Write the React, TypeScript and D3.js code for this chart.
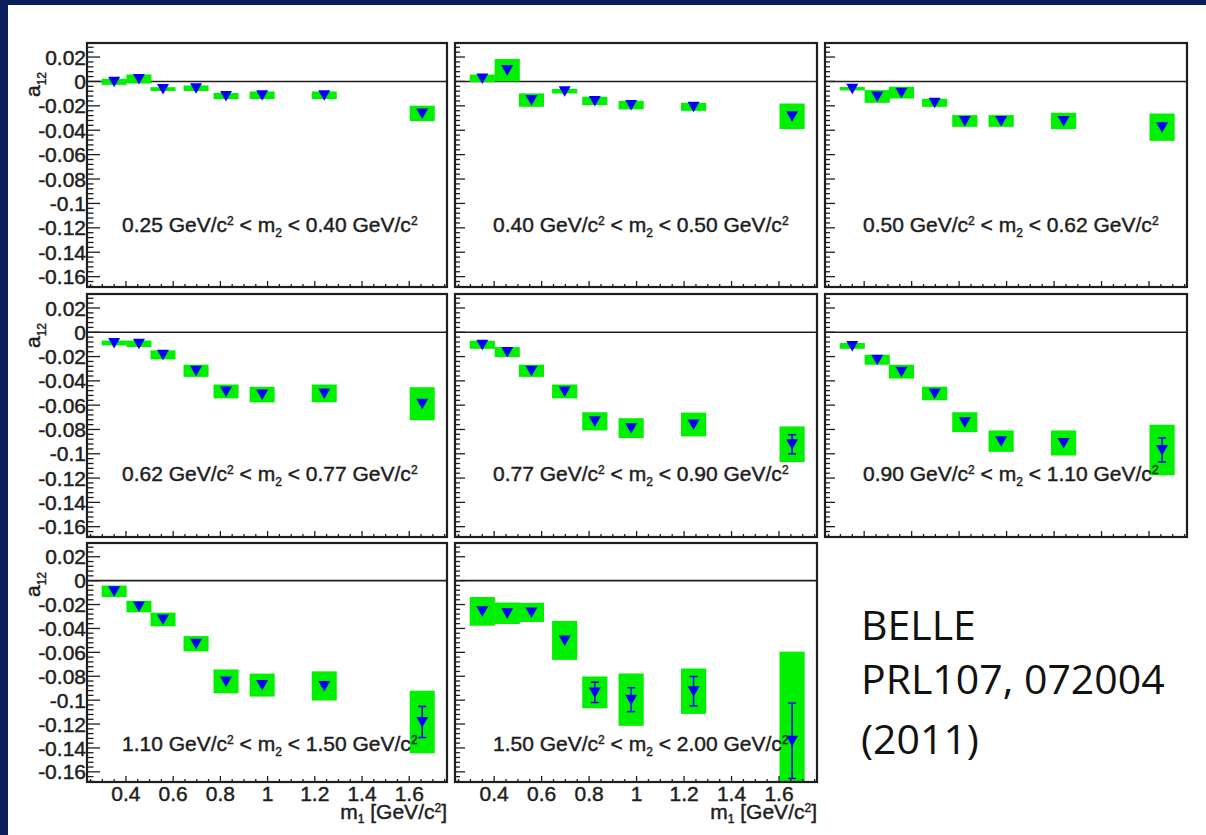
import * as d3 from 'd3';

// m1 bin centres (GeV/c^2), shared by all panels
const M1_CENTRES = [0.35, 0.455, 0.557, 0.697, 0.824, 0.977, 1.24, 1.655];

// m2 bin edges -> one panel per bin
const M2_EDGES = ['0.25', '0.40', '0.50', '0.62', '0.77', '0.90', '1.10', '1.50', '2.00'];

// a12 values, one row per m2 bin
const A12 = [
  [-0.0003, 0.002, -0.0063, -0.0056, -0.012, -0.0113, -0.0113, -0.0262],
  [0.0025, 0.0092, -0.0153, -0.008, -0.016, -0.0194, -0.0208, -0.0286],
  [-0.006, -0.0123, -0.0092, -0.0175, -0.0324, -0.0324, -0.0324, -0.0375],
  [-0.0088, -0.0095, -0.0186, -0.0317, -0.0487, -0.0513, -0.0503, -0.0588],
  [-0.0103, -0.0163, -0.0317, -0.0487, -0.0733, -0.0789, -0.0759, -0.0922],
  [-0.0112, -0.0226, -0.0324, -0.0504, -0.074, -0.0896, -0.0911, -0.0969],
  [-0.0089, -0.0217, -0.0325, -0.0528, -0.0843, -0.0874, -0.0881, -0.1183],
  [-0.0257, -0.0273, -0.0266, -0.05, -0.0935, -0.0996, -0.0925, -0.134],
];

// systematic errors (green boxes, half height)
const SYS = [
  [0.0025, 0.0037, 0.0016, 0.0023, 0.0025, 0.0031, 0.0031, 0.0063],
  [0.0031, 0.0092, 0.0055, 0.0019, 0.0034, 0.0035, 0.0033, 0.0105],
  [0.0014, 0.0052, 0.0048, 0.0033, 0.0048, 0.0048, 0.0067, 0.0112],
  [0.002, 0.0027, 0.0037, 0.005, 0.0057, 0.0064, 0.0073, 0.0136],
  [0.0033, 0.0041, 0.005, 0.0057, 0.0075, 0.0082, 0.0098, 0.0147],
  [0.0024, 0.0041, 0.0057, 0.0056, 0.0082, 0.0088, 0.0103, 0.0208],
  [0.0048, 0.0048, 0.0057, 0.0064, 0.01, 0.0096, 0.0122, 0.0262],
  [0.012, 0.009, 0.008, 0.0163, 0.0133, 0.0219, 0.019, 0.0746],
];

// statistical errors (blue bars)
const STAT = [
  [0.001, 0.001, 0.001, 0.001, 0.0015, 0.0015, 0.0015, 0.003],
  [0.001, 0.0015, 0.0015, 0.0015, 0.0015, 0.002, 0.002, 0.003],
  [0.001, 0.0015, 0.0015, 0.0015, 0.002, 0.002, 0.002, 0.0035],
  [0.0015, 0.0015, 0.0015, 0.002, 0.002, 0.0025, 0.0025, 0.004],
  [0.0015, 0.0015, 0.002, 0.002, 0.0025, 0.003, 0.003, 0.0079],
  [0.0015, 0.002, 0.002, 0.0025, 0.003, 0.0035, 0.0035, 0.0099],
  [0.002, 0.002, 0.0025, 0.003, 0.0035, 0.0035, 0.004, 0.013],
  [0.003, 0.003, 0.003, 0.004, 0.0085, 0.01, 0.0123, 0.0315],
];

const Y_TICKS = [0.02, 0, -0.02, -0.04, -0.06, -0.08, -0.1, -0.12, -0.14, -0.16];
const Y_TICK_LABELS = ['0.02', '0', '-0.02', '-0.04', '-0.06', '-0.08', '-0.1', '-0.12', '-0.14', '-0.16'];
const X_TICKS = [0.4, 0.6, 0.8, 1, 1.2, 1.4, 1.6];
const X_TICK_LABELS = ['0.4', '0.6', '0.8', '1', '1.2', '1.4', '1.6'];

const NOTE_LINES = ['BELLE', 'PRL107, 072004', '(2011)'];

// ── layout ──────────────────────────────────────────────────────────────────
const W = 1206;
const H = 835;
const NAVY = '#0b1f5c';
const INK = '#1e1e1e';
const GREEN = '#00f000';
const BLUE = '#0000ff';

const COLS = [{ x0: 87, x1: 447 }, { x0: 455, x1: 817 }, { x0: 825, x1: 1187 }];
const ROWS = [{ y0: 43, y1: 287 }, { y0: 294, y1: 537 }, { y0: 543, y1: 782 }];
const LABEL_BASELINE = [232, 481, 751];
const X_DOMAIN: [number, number] = [0.235, 1.76];
const Y_DOMAIN: [number, number] = [-0.1685, 0.0315];
const BOX_HALF = 0.053; // half width of sys boxes, in m1 units
const FONT = "'Liberation Sans', Arial, Helvetica, sans-serif";
const FS = 21;
// the scanned ROOT text is blurred and looks heavier than a plain regular face
const TXT = { fontSize: FS, fill: INK, stroke: INK, strokeWidth: 0.45 };

function Panel({ i }: { i: number }) {
  const row = Math.floor(i / 3);
  const col = i % 3;
  const { x0, x1 } = COLS[col];
  const { y0, y1 } = ROWS[row];
  const x = d3.scaleLinear().domain(X_DOMAIN).range([x0, x1]);
  const y = d3.scaleLinear().domain(Y_DOMAIN).range([y1, y0]);
  const clipId = `pclip-${i}`;

  const yMaj = col === 0 ? 13 : 10;
  const yMin = yMaj / 2;
  const xMaj = 6;
  const xMin = 3;

  const yMinor = d3.range(-42, 8).filter(k => k % 5 !== 0).map(k => k * 0.004)
    .filter(v => v >= Y_DOMAIN[0] && v <= Y_DOMAIN[1]);
  const xMinor = d3.range(5, 36).filter(k => k % 4 !== 0).map(k => k * 0.05)
    .filter(v => v >= X_DOMAIN[0] && v <= X_DOMAIN[1]);

  const vals = A12[i];
  const tri = (cx: number, cy: number) =>
    `M${cx - 6},${cy - 5}L${cx + 6},${cy - 5}L${cx},${cy + 5.5}Z`;

  return (
    <g>
      <defs>
        <clipPath id={clipId}>
          <rect x={x0} y={y0} width={x1 - x0} height={y1 - y0} />
        </clipPath>
      </defs>

      {/* zero line */}
      <line x1={x0} x2={x1} y1={y(0)} y2={y(0)} stroke={INK} strokeWidth={1.6} />

      <g clipPath={`url(#${clipId})`}>
        {/* systematic boxes */}
        {vals.map((v, k) => (
          <rect key={`s${k}`}
            x={x(M1_CENTRES[k] - BOX_HALF)} width={x(M1_CENTRES[k] + BOX_HALF) - x(M1_CENTRES[k] - BOX_HALF)}
            y={y(v + SYS[i][k])} height={y(v - SYS[i][k]) - y(v + SYS[i][k])}
            fill={GREEN} />
        ))}
        {/* stat error bars, only where they stick out of the marker */}
        {vals.map((v, k) => {
          const cx = x(M1_CENTRES[k]);
          const top = y(v + STAT[i][k]);
          const bot = y(v - STAT[i][k]);
          if (bot - top < 12) return null;
          return (
            <g key={`e${k}`} stroke={BLUE} strokeWidth={1.5}>
              <line x1={cx} x2={cx} y1={top} y2={bot} />
              <line x1={cx - 4} x2={cx + 4} y1={top} y2={top} />
              <line x1={cx - 4} x2={cx + 4} y1={bot} y2={bot} />
            </g>
          );
        })}
        {/* markers */}
        {vals.map((v, k) => (
          <path key={`m${k}`} d={tri(x(M1_CENTRES[k]), y(v))} fill={BLUE} />
        ))}
      </g>

      {/* ticks */}
      <g stroke={INK} strokeWidth={1.3}>
        {Y_TICKS.map(t => (
          <line key={`yt${t}`} x1={x0} x2={x0 + yMaj} y1={y(t)} y2={y(t)} />
        ))}
        {yMinor.map(t => (
          <line key={`ym${t}`} x1={x0} x2={x0 + yMin} y1={y(t)} y2={y(t)} />
        ))}
        {X_TICKS.map(t => (
          <line key={`xt${t}`} x1={x(t)} x2={x(t)} y1={y1} y2={y1 - xMaj} />
        ))}
        {xMinor.map(t => (
          <line key={`xm${t}`} x1={x(t)} x2={x(t)} y1={y1} y2={y1 - xMin} />
        ))}
      </g>

      {/* frame */}
      <rect x={x0} y={y0} width={x1 - x0} height={y1 - y0} fill="none" stroke={INK} strokeWidth={2.2} />

      {/* panel label */}
      <text x={x0 + (col === 0 ? 35 : 38)} y={LABEL_BASELINE[row]} {...TXT}>
        {`${M2_EDGES[i]} GeV/c`}
        <tspan dy={-7} fontSize={12}>2</tspan>
        <tspan dy={7}>{' < m'}</tspan>
        <tspan dy={5} fontSize={12}>2</tspan>
        <tspan dy={-5}>{` < ${M2_EDGES[i + 1]} GeV/c`}</tspan>
        <tspan dy={-7} fontSize={12}>2</tspan>
      </text>

      {col === 0 && (
        <g>
          {Y_TICKS.map((t, k) => (
            <text key={`yl${t}`} x={x0 - 1} y={y(t)} dy="0.36em" textAnchor="end" {...TXT}>
              {Y_TICK_LABELS[k]}
            </text>
          ))}
          <text transform={`translate(40,${y0 + 29}) rotate(-90)`} textAnchor="end" {...TXT}>
            a<tspan dy={6} fontSize={12}>12</tspan>
          </text>
        </g>
      )}

      {row === 2 && (
        <g>
          {X_TICKS.map((t, k) => (
            <text key={`xl${t}`} x={x(t)} y={y1 + 19} textAnchor="middle" {...TXT}>
              {X_TICK_LABELS[k]}
            </text>
          ))}
          <text x={x1} y={y1 + 37} textAnchor="end" {...TXT}>
            m<tspan dy={4} fontSize={12}>1</tspan>
            <tspan dy={-4}>{' [GeV/c'}</tspan>
            <tspan dy={-7} fontSize={12}>2</tspan>
            <tspan dy={7}>]</tspan>
          </text>
        </g>
      )}
    </g>
  );
}

export default function App() {
  return (
    <svg width={W} height={H} style={{ position: 'absolute', left: 0, top: 0 }} fontFamily={FONT}>
      <rect width={W} height={H} fill={NAVY} />
      <rect x={8} y={5} width={W - 8} height={H - 5} fill="#fff" />
      {A12.map((_, i) => <Panel key={i} i={i} />)}
      <g fontFamily="'Open Sans', 'Noto Sans', sans-serif" fontSize={41} fill="#111">
        {NOTE_LINES.map((s, k) => (
          <text key={s} x={861} y={[640, 694, 754][k]}>{s}</text>
        ))}
      </g>
    </svg>
  );
}
